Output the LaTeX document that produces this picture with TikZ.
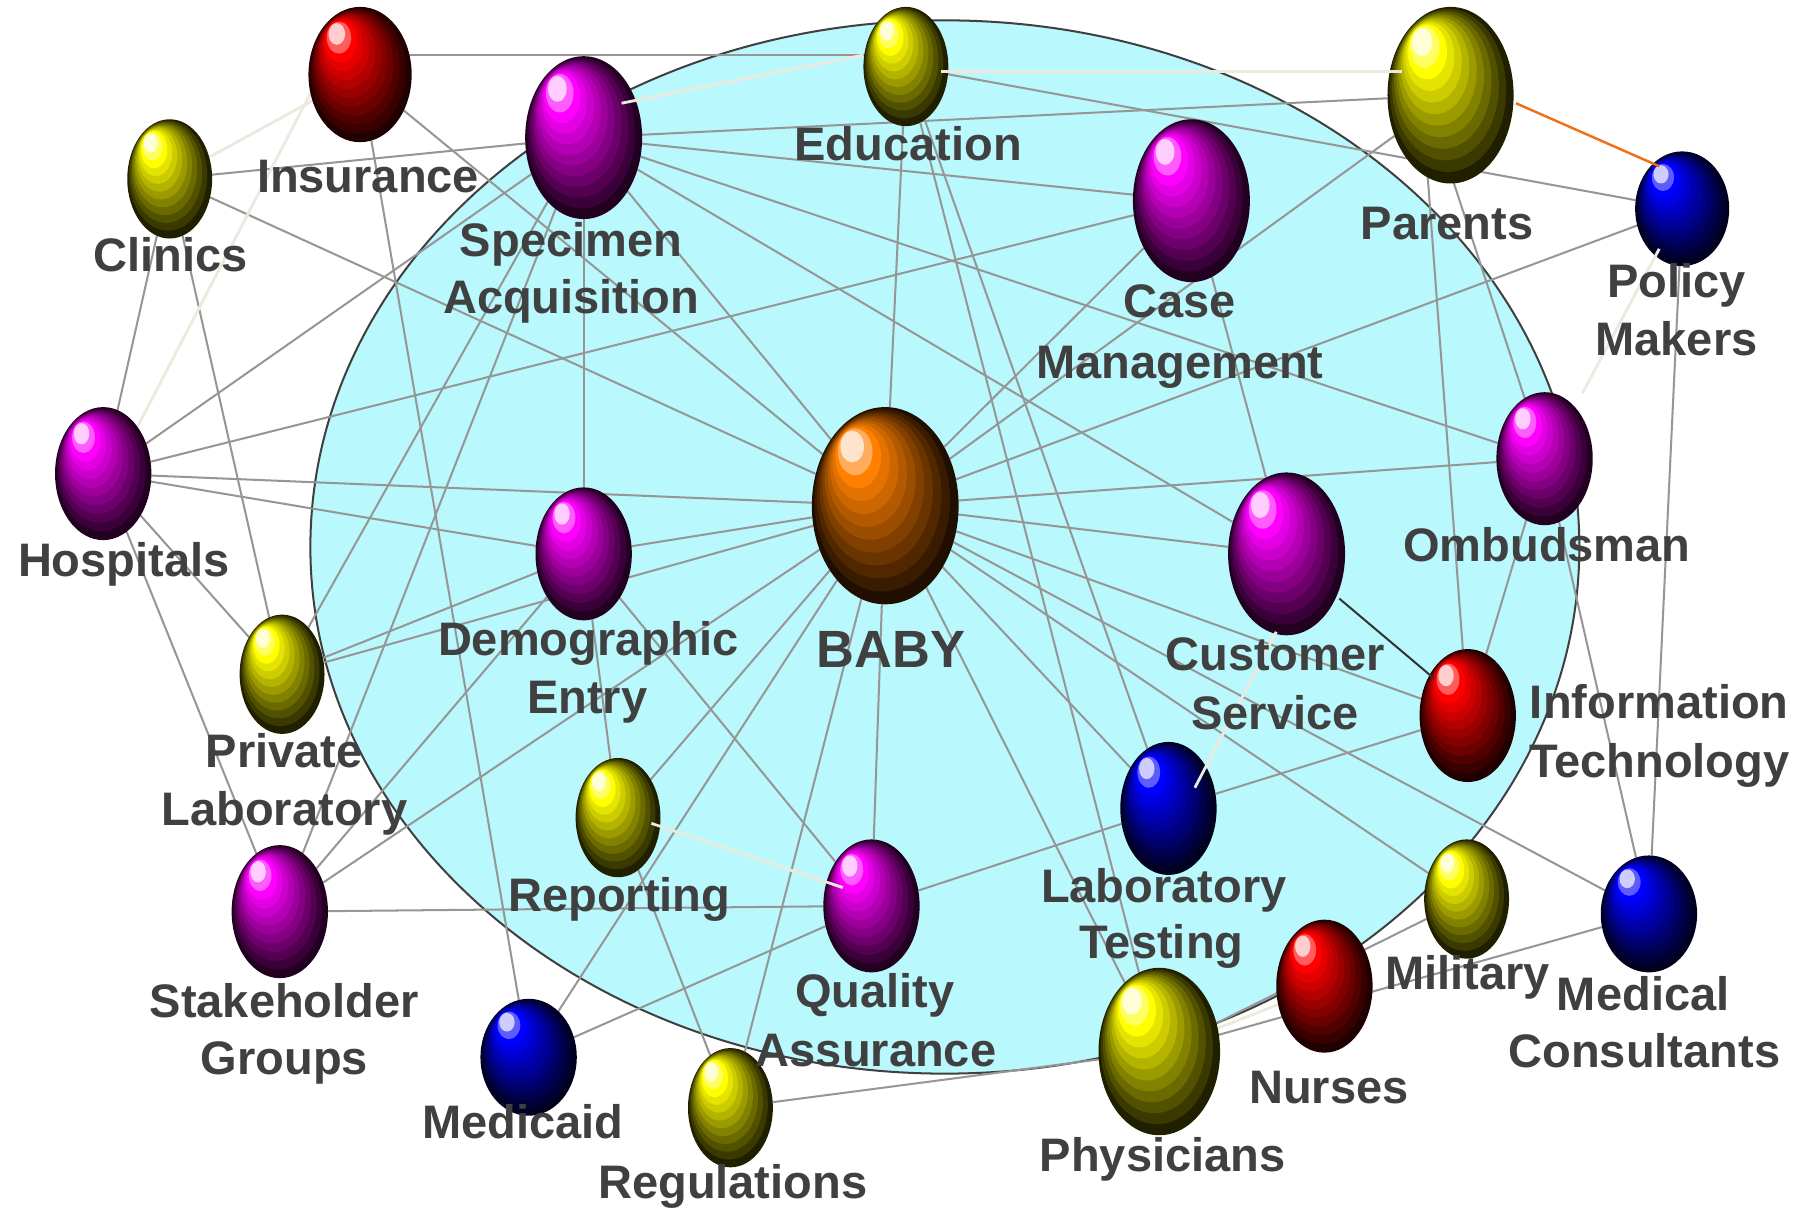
\documentclass[tikz,border=0pt]{standalone}
\usepackage{fontspec}
\setmainfont{Liberation Sans}
\usetikzlibrary{shapes.geometric,calc}
\definecolor{magD}{RGB}{34,0,32}\definecolor{magM}{RGB}{255,0,255}\definecolor{magL}{RGB}{255,205,255}
\definecolor{yelD}{RGB}{32,32,0}\definecolor{yelM}{RGB}{255,255,0}\definecolor{yelL}{RGB}{255,255,215}
\definecolor{redD}{RGB}{32,0,0}\definecolor{redM}{RGB}{255,0,0}\definecolor{redL}{RGB}{255,205,205}
\definecolor{bluD}{RGB}{0,0,32}\definecolor{bluM}{RGB}{0,0,255}\definecolor{bluL}{RGB}{205,205,255}
\definecolor{oraD}{RGB}{32,14,0}\definecolor{oraM}{RGB}{255,128,0}\definecolor{oraL}{RGB}{255,228,205}
\definecolor{bgcyan}{RGB}{185,248,252}
\definecolor{edgegray}{RGB}{150,150,150}
\definecolor{lightline}{RGB}{236,234,222}
\definecolor{labgray}{RGB}{64,64,64}
\definecolor{orangeline}{RGB}{240,110,20}
\tikzset{
  ballnode/.style={ellipse, inner sep=0pt, outer sep=0pt},
  edge/.style={draw=edgegray, line width=0.5pt},
  lightedge/.style={draw=lightline, line width=0.7pt},
  lab/.style={text=labgray, font=\fontsize{11.66}{14}\selectfont\bfseries, anchor=base, inner sep=0pt},
  bigl/.style={text=labgray, font=\fontsize{13}{15}\selectfont\bfseries, anchor=base, inner sep=0pt},
}
\newcommand\mkball[5]{\node[ballnode, minimum width=#4*0.02cm, minimum height=#5*0.02cm] (#1) at (#2,#3) {};}
\newcommand\drawball[6]{%
  \foreach \k in {0,...,11}{%
    \pgfmathsetmacro\bt{\k/11}%
    \pgfmathsetmacro\bsc{1-0.84*\bt}%
    \pgfmathsetmacro\bxo{-0.45*\bt*#2}%
    \pgfmathsetmacro\byo{-0.6*\bt*#3}%
    \pgfmathsetmacro\brx{\bsc*#2*0.01}%
    \pgfmathsetmacro\bry{\bsc*#3*0.01}%
    \ifnum\k<10
      \pgfmathtruncatemacro\bpp{\k*100/9}%
      \colorlet{bandc}{#5!\bpp!#4}%
    \else\ifnum\k=10
      \colorlet{bandc}{#6!45!#5}%
    \else
      \colorlet{bandc}{#6}%
    \fi\fi
    \fill[bandc] ($(#1)+(\bxo,\byo)$) ellipse [x radius=\brx cm, y radius=\bry cm];
  }%
}
\begin{document}
\begin{tikzpicture}[x=0.01cm,y=-0.01cm]
\useasboundingbox (0,0) rectangle (1568,1053);
\fill[white] (0,0) rectangle (1568,1053);
\node[ellipse, inner sep=0pt, minimum width=11.06cm, minimum height=9.18cm, fill=bgcyan, draw=black!75, line width=0.5pt] (bg) at (824,477) {};

% nodes
\mkball{ins}{314}{65}{45}{59}
\mkball{cli}{148}{156}{37}{52}
\mkball{spec}{509}{120}{51}{71}
\mkball{edu}{790}{58}{37}{52}
\mkball{par}{1265}{83}{55}{77}
\mkball{pm}{1467}{182}{41}{50}
\mkball{cm}{1039}{175}{51}{71}
\mkball{hosp}{90}{413}{42}{58}
\mkball{pl}{246}{588}{37}{52}
\mkball{de}{509}{483}{42}{58}
\mkball{baby}{772}{441}{64}{86}
\mkball{cs}{1122}{483}{51}{71}
\mkball{omb}{1347}{400}{42}{58}
\mkball{it}{1280}{624}{42}{58}
\mkball{lt}{1019}{705}{42}{58}
\mkball{rep}{539}{713}{37}{52}
\mkball{qa}{760}{790}{42}{58}
\mkball{sg}{244}{795}{42}{58}
\mkball{mcd}{461}{922}{42}{51}
\mkball{reg}{637}{966}{37}{52}
\mkball{phys}{1011}{917}{53}{73}
\mkball{nur}{1155}{860}{42}{58}
\mkball{mil}{1279}{784}{37}{52}
\mkball{mc}{1438}{797}{42}{51}

% gray edges
\foreach \a/\b in {ins/baby,ins/mcd,cli/spec,cli/baby,cli/hosp,cli/pl,
  spec/par,spec/cm,spec/omb,spec/cs,spec/baby,spec/de,spec/hosp,spec/pl,spec/sg,
  edu/pm,edu/baby,edu/lt,edu/phys,par/baby,pm/baby,pm/mc,
  cm/hosp,cm/baby,cm/cs,hosp/baby,hosp/de,hosp/pl,hosp/sg,
  baby/de,baby/omb,baby/cs,baby/it,baby/mc,baby/mil,baby/lt,baby/phys,baby/qa,
  baby/reg,baby/mcd,baby/rep,baby/pl,baby/sg,omb/mc,omb/it,
  de/pl,de/sg,de/qa,de/rep,lt/it,lt/qa,qa/sg,qa/mcd,rep/reg,reg/phys,phys/mil,phys/mc}
  {\draw[edge] (\a) -- (\b);}
\draw[edge] ($(ins)+(40,-17)$) -- ($(edu)+(-34,-10)$);
\draw[edge] ($(par)+(-20,70)$) -- (it);
\draw[edge] ($(par)+(2,74)$) -- (omb);
% light edges behind
\draw[lightedge] (cli) -- (ins);
\draw[lightedge] ($(ins)+(-42,14)$) -- ($(hosp)+(30,-41)$);
\draw[lightedge] (phys) -- (nur);

% spheres
\drawball{ins}{45}{59}{redD}{redM}{redL}
\drawball{cli}{37}{52}{yelD}{yelM}{yelL}
\drawball{spec}{51}{71}{magD}{magM}{magL}
\drawball{edu}{37}{52}{yelD}{yelM}{yelL}
\drawball{par}{55}{77}{yelD}{yelM}{yelL}
\drawball{pm}{41}{50}{bluD}{bluM}{bluL}
\drawball{cm}{51}{71}{magD}{magM}{magL}
\drawball{hosp}{42}{58}{magD}{magM}{magL}
\drawball{pl}{37}{52}{yelD}{yelM}{yelL}
\drawball{de}{42}{58}{magD}{magM}{magL}
\drawball{baby}{64}{86}{oraD}{oraM}{oraL}
\drawball{cs}{51}{71}{magD}{magM}{magL}
\drawball{omb}{42}{58}{magD}{magM}{magL}
\drawball{it}{42}{58}{redD}{redM}{redL}
\drawball{lt}{42}{58}{bluD}{bluM}{bluL}
\drawball{rep}{37}{52}{yelD}{yelM}{yelL}
\drawball{qa}{42}{58}{magD}{magM}{magL}
\drawball{sg}{42}{58}{magD}{magM}{magL}
\drawball{mcd}{42}{51}{bluD}{bluM}{bluL}
\drawball{reg}{37}{52}{yelD}{yelM}{yelL}
\drawball{phys}{53}{73}{yelD}{yelM}{yelL}
\drawball{nur}{42}{58}{redD}{redM}{redL}
\drawball{mil}{37}{52}{yelD}{yelM}{yelL}
\drawball{mc}{42}{51}{bluD}{bluM}{bluL}

% edges drawn over spheres
\draw[lightedge] ($(spec)+(33,-30)$) -- ($(edu)+(-37,-10)$);
\draw[lightedge] ($(edu)+(31,4)$) -- ($(par)+(-42,-21)$);
\draw[lightedge] ($(rep)+(29,5)$) -- ($(qa)+(-25,-16)$);
\draw[lightedge] ($(cs)+(-9,68)$) -- ($(lt)+(23,-18)$);
\draw[lightedge] ($(pm)+(-20,35)$) -- ($(omb)+(33,-57)$);
\draw[draw=orangeline, line width=0.6pt] ($(par)+(57,7)$) -- ($(pm)+(-20,-37)$);
\draw[draw=black!80, line width=0.5pt] ($(cs)+(46,39)$) -- ($(it)+(-29,-32)$);

% labels
\node[lab] (l-ins) at (321,168) {Insurance};
\node[lab] (l-cli) at (149,237) {Clinics};
\node[lab] (l-spec1) at (498,224) {Specimen};
\node[lab] (l-spec2) at (498,273) {Acquisition};
\node[lab] (l-edu) at (792,140) {Education};
\node[lab] (l-cm1) at (1029,277) {Case};
\node[lab] (l-cm2) at (1029,330) {Management};
\node[lab] (l-par) at (1262,209) {Parents};
\node[lab] (l-pm1) at (1462,259) {Policy};
\node[lab] (l-pm2) at (1462,310) {Makers};
\node[lab] (l-hosp) at (108,503) {Hospitals};
\node[lab] (l-pl1) at (248,669) {Private};
\node[lab] (l-pl2) at (248,720) {Laboratory};
\node[lab] (l-de1) at (513,572) {Demographic};
\node[lab] (l-de2) at (512,622) {Entry};
\node[bigl] (l-baby) at (777,582) {BABY};
\node[lab] (l-omb) at (1349,490) {Ombudsman};
\node[lab] (l-cs1) at (1112,585) {Customer};
\node[lab] (l-cs2) at (1112,636) {Service};
\node[lab] (l-it1) at (1447,627) {Information};
\node[lab] (l-it2) at (1447,678) {Technology};
\node[lab] (l-rep) at (540,795) {Reporting};
\node[lab] (l-lt1) at (1015,787) {Laboratory};
\node[lab] (l-lt2) at (1013,836) {Testing};
\node[lab] (l-qa1) at (763,879) {Quality};
\node[lab] (l-qa2) at (764,930) {Assurance};
\node[lab] (l-sg1) at (248,887) {Stakeholder};
\node[lab] (l-sg2) at (248,937) {Groups};
\node[lab] (l-mcd) at (456,993) {Medicaid};
\node[lab] (l-reg) at (639,1045) {Regulations};
\node[lab] (l-phys) at (1014,1022) {Physicians};
\node[lab] (l-nur) at (1159,962) {Nurses};
\node[lab] (l-mil) at (1280,863) {Military};
\node[lab] (l-mc1) at (1433,881) {Medical};
\node[lab] (l-mc2) at (1434,931) {Consultants};
\end{tikzpicture}
\end{document}
